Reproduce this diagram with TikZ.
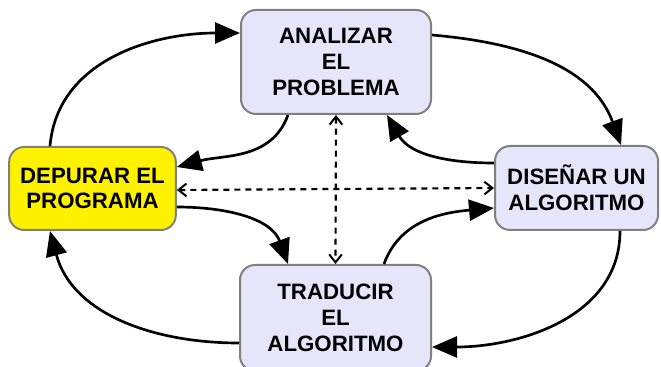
\documentclass[tikz,border=0pt]{standalone}
\usepackage{fontspec}
\setmainfont{Liberation Sans}
\usetikzlibrary{arrows.meta}
\definecolor{boxfill}{RGB}{230,230,250}
\definecolor{boxline}{RGB}{128,128,128}
\begin{document}
\begin{tikzpicture}[x=0.3mm, y=0.3mm,
  every node/.style={font=\fontsize{19}{22}\selectfont\bfseries, align=center},
  stepbox/.style={rectangle, rounded corners=4.5mm, draw=boxline, line width=0.6mm, fill=boxfill, inner sep=0pt},
  flow/.style={line width=0.8mm, -{Triangle[length=7.5mm, width=6.3mm]}},
  link/.style={line width=0.65mm, dash pattern=on 1.8mm off 1.5mm, {Straight Barb[length=2.4mm, width=3.8mm, line width=0.6mm]}-{Straight Barb[length=2.4mm, width=3.8mm, line width=0.6mm]}}]
\useasboundingbox (0,0) rectangle (661,-367);
\node[stepbox, minimum width=57mm, minimum height=31.2mm] (ana) at (336,-62) {ANALIZAR\\EL\\PROBLEMA};
\node[stepbox, minimum width=50mm, minimum height=24.9mm, fill=yellow] (dep) at (92.5,-188.5) {DEPURAR EL\\PROGRAMA};
\node[stepbox, minimum width=48.9mm, minimum height=25.2mm] (dis) at (576.5,-188) {DISEÑAR UN\\ALGORITMO};
\node[stepbox, minimum width=57.3mm, minimum height=31.8mm] (tra) at (335.5,-318) {TRADUCIR\\EL\\ALGORITMO};
% outer cycle
\draw[flow] ([xshift=-12.75mm]dep.north) to[out=85, in=180] ([yshift=8.7mm]ana.west);
\draw[flow] ([yshift=8.1mm]ana.east) to[out=-5, in=110] ([xshift=13.35mm]dis.north);
\draw[flow] ([xshift=13.05mm]dis.south) to[out=-90, in=0] ([yshift=-8.7mm]tra.east);
\draw[flow] ([yshift=-7.5mm]tra.west) to[out=180, in=-75] ([xshift=-12.75mm]dep.south);
% inner cycle
\draw[flow] ([xshift=-14.4mm]ana.south) to[out=-110, in=15] ([yshift=6.45mm]dep.east);
\draw[flow] ([yshift=7.5mm]dis.west) to[out=180, in=-60] ([xshift=15.3mm]ana.south);
\draw[flow] ([yshift=-5.55mm]dep.east) to[out=0, in=110] ([xshift=-14.25mm]tra.north);
\draw[flow] ([xshift=14.55mm]tra.north) to[out=70, in=185] ([yshift=-6mm]dis.west);
% dashed links
\draw[link] (ana.south) -- (tra.north);
\draw[link] ([yshift=-0.45mm]dep.east) -- (dis.west);
\end{tikzpicture}
\end{document}
